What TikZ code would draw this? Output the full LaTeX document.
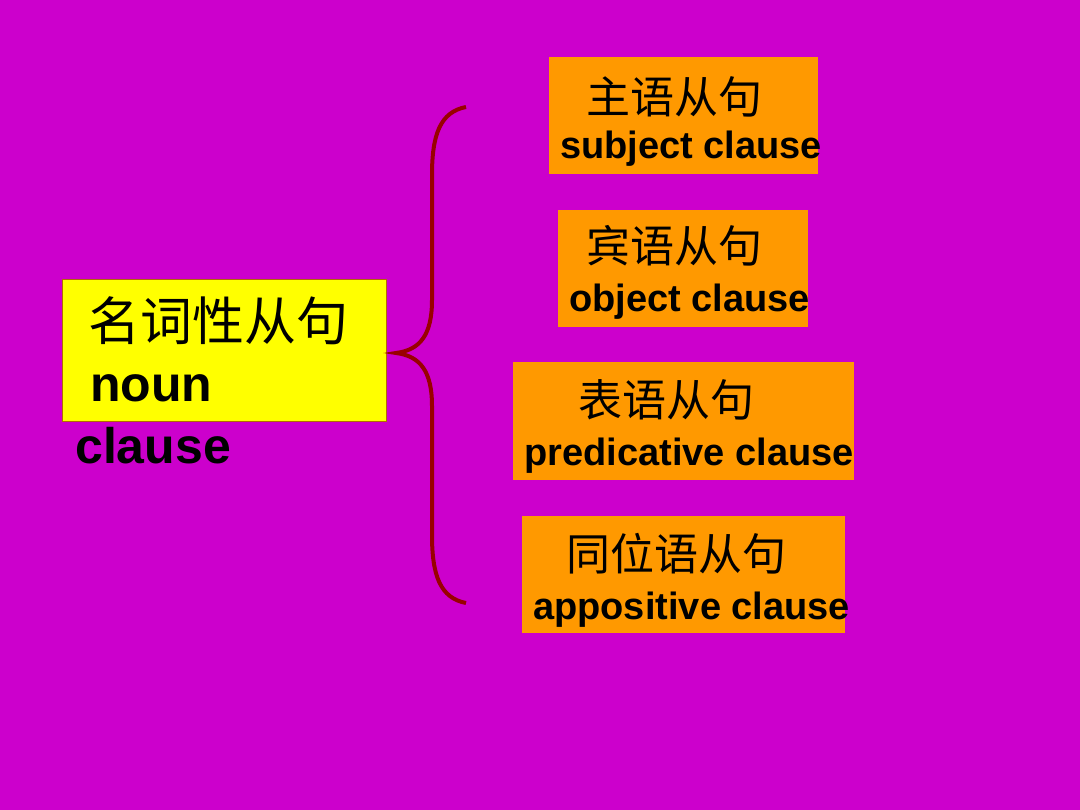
\documentclass[tikz,border=0pt]{standalone}
\usepackage{fontspec}
\setmainfont{Liberation Sans}
\newfontfamily\cjk{Noto Sans CJK SC}
\definecolor{bg}{HTML}{CC00CC}
\definecolor{org}{HTML}{FF9900}
\definecolor{yel}{HTML}{FFFF00}
\definecolor{brc}{HTML}{990000}
\begin{document}
\begin{tikzpicture}[x=1pt,y=-1pt,
  box/.style={fill=org,draw=none},
  cn/.style={anchor=base west,inner sep=0,font=\cjk\fontsize{44}{44}\selectfont},
  en/.style={anchor=base west,inner sep=0,font=\bfseries\fontsize{38}{38}\selectfont}]
\fill[bg] (0,0) rectangle (1080,810);
\useasboundingbox (0,0) rectangle (1080,810);
\fill[yel] (62,279) rectangle (386,421);
\draw[org!70!black,line width=0.8] (62,279) rectangle (386,421);
\node[cn,font=\cjk\fontsize{52}{52}\selectfont] (m) at (88,341) {名词性从句};
\node[en,font=\bfseries\fontsize{50}{50}\selectfont] (n) at (90,402) {noun};
\node[en,font=\bfseries\fontsize{50}{50}\selectfont] (c) at (75,464) {clause};
\fill[box] (549,57) rectangle (818,174);
\fill[box] (558,210) rectangle (808,327);
\fill[box] (513,362) rectangle (854,480);
\fill[box] (522,516) rectangle (845,633);
\node[cn] (a1) at (586,114) {主语从句};
\node[en] (b1) at (560,159) {subject clause};
\node[cn] (a2) at (586,263) {宾语从句};
\node[en] (b2) at (569,312) {object clause};
\node[cn] (a3) at (578,417) {表语从句};
\node[en] (b3) at (524,466) {predicative clause};
\node[cn] (a4) at (566,570) {同位语从句};
\node[en] (b4) at (533,619) {appositive clause};
\draw[brc,line width=4] (466,107) .. controls (440,112) and (432,135) .. (432,175)
  -- (432,300) .. controls (432,335) and (420,350) .. (396,353)
  .. controls (420,356) and (432,371) .. (432,406)
  -- (432,535) .. controls (432,575) and (440,598) .. (466,603);
\end{tikzpicture}
\end{document}
